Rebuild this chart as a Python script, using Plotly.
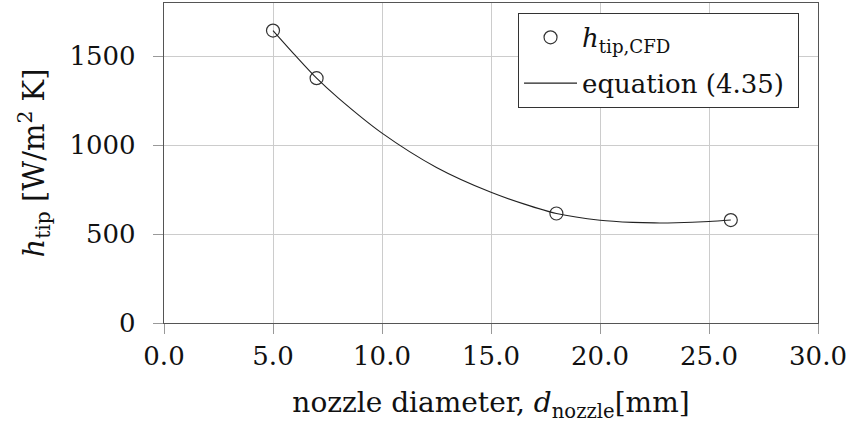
import plotly.graph_objects as go

# CFD tip heat-transfer coefficients
d_cfd = [5, 7, 18, 26]
h_cfd = [1645, 1377, 616, 579]

# equation (4.35) evaluated along the nozzle diameter range
d_eq = [5, 6, 7, 8, 10, 12.5, 15, 16.5, 18, 20, 21.5, 22.5, 23.5, 25, 26]
h_eq = [1645, 1508, 1377, 1265, 1068, 875, 735, 670, 616, 578, 566, 563, 564, 571, 579]

x_ticks = [0, 5, 10, 15, 20, 25, 30]
x_tick_text = ["0.0", "5.0", "10.0", "15.0", "20.0", "25.0", "30.0"]
y_ticks = [0, 500, 1000, 1500]
y_tick_text = ["0", "500", "1000", "1500"]

FONT = "DejaVu Serif"
TXT = "#111111"
FRAME = "#555555"
GRID = "#cccccc"
PAD = "\u00a0"

fig = go.Figure()
fig.add_trace(go.Scatter(
    x=d_cfd, y=h_cfd, mode="markers",
    name="<i>h</i><sub>tip,CFD</sub>" + PAD, legendgroup="cfd",
    marker=dict(symbol="circle-open", size=13, color="#333333", line=dict(width=1.2)),
))
fig.add_trace(go.Scatter(
    x=d_eq, y=h_eq, mode="lines",
    name="equation (4.35)" + PAD, legendgroup="eq",
    line=dict(color="#222222", width=1.1, shape="spline", smoothing=0.8),
))

axis_common = dict(
    showline=True, mirror=True, linecolor=FRAME, linewidth=1.3,
    showgrid=True, gridcolor=GRID, gridwidth=1,
    ticks="outside", ticklen=10, tickcolor="#999999", tickwidth=1,
    zeroline=False,
    tickfont=dict(family=FONT, size=26, color=TXT),
)

fig.update_xaxes(
    range=[0, 30], tickvals=x_ticks, ticktext=x_tick_text,
    title=dict(text="nozzle diameter, <i>d</i><sub>nozzle</sub>[mm]",
               font=dict(family=FONT, size=28, color=TXT), standoff=22),
    **axis_common,
)
fig.update_yaxes(
    range=[0, 1800], tickvals=y_ticks, ticktext=y_tick_text,
    title=dict(text="<i>h</i><sub>tip</sub> [W/m<sup>2</sup> K]",
               font=dict(family=FONT, size=29, color=TXT), standoff=16),
    ticklabelstandoff=12,
    **axis_common,
)

fig.update_layout(
    width=854, height=427,
    margin=dict(l=164, r=36, t=3, b=104),
    paper_bgcolor="white", plot_bgcolor="white",
    showlegend=True,
    legend=dict(
        x=0.971, y=0.969, xanchor="right", yanchor="top",
        bgcolor="white", bordercolor="#333333", borderwidth=1,
        font=dict(family=FONT, size=26, color=TXT),
        itemwidth=53, tracegroupgap=9, traceorder="grouped",
    ),
)

fig.write_html("out.html")
